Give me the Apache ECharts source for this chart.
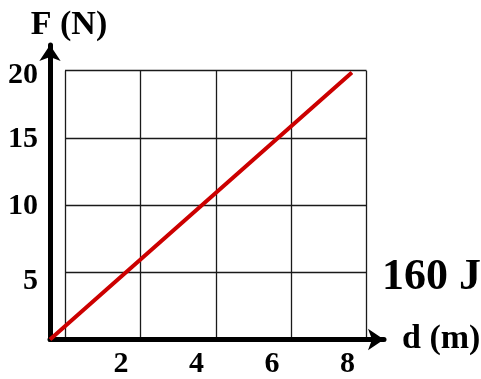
<!DOCTYPE html>
<html>
<head>
<meta charset="utf-8">
<script src="https://cdn.jsdelivr.net/npm/echarts@6/dist/echarts.min.js"></script>
<style>
  html, body { margin: 0; padding: 0; background: #ffffff; }
  #chart { width: 481px; height: 379px; }
</style>
</head>
<body>
<div id="chart"></div>
<script>
// Force (N) against displacement (m) for a uniform straight-line relation
const distances = [0, 2, 4, 6, 8];
const forces = [0, 5, 10, 15, 20];
const xTickLabels = ['2', '4', '6', '8'];
const yTickLabels = ['5', '10', '15', '20'];
const workLabel = '160 J';

const FONT = 'Liberation Serif, Times New Roman, serif';

const chart = echarts.init(document.getElementById('chart'), null, { renderer: 'canvas' });

const pairs = distances.map((d, i) => [d, forces[i]]);

const labelStyle = {
  fontFamily: FONT,
  fontWeight: 'bold',
  fontSize: 30,
  color: '#000'
};

// hand-lettered offsets of a few y tick labels
const yLabelRich = {
  n: Object.assign({}, labelStyle),
  lo: Object.assign({ padding: [16, 0, 0, 0] }, labelStyle),
  lo2: Object.assign({ padding: [5, 0, 0, 0] }, labelStyle)
};

chart.setOption({
  backgroundColor: '#ffffff',
  animation: false,
  grid: [
    // main plotting frame carrying the arrowed axes
    { left: 50, top: 45, width: 334, bottom: 39.5, outerBoundsMode: 'none', containLabel: false },
    // inner square lattice
    { left: 65, top: 70.7, width: 301.5, bottom: 39.5, outerBoundsMode: 'none', containLabel: false }
  ],
  xAxis: [
    {
      type: 'value',
      gridIndex: 0,
      min: 0,
      max: 8.85,
      interval: 2,
      z: 3,
      name: 'd (m)',
      nameLocation: 'end',
      nameGap: 18,
      nameMoveOverlap: false,
      nameTextStyle: {
        fontFamily: FONT, fontWeight: 'bold', fontSize: 34, color: '#000',
        align: 'left', verticalAlign: 'middle'
      },
      axisLine: {
        show: true,
        symbol: ['none', 'arrow'],
        symbolSize: [16, 16],
        lineStyle: { color: '#000', width: 5 }
      },
      axisTick: { show: false },
      splitLine: { show: false },
      axisLabel: Object.assign({
        margin: 10,
        padding: [0, 9, 0, 0],
        formatter: v => (xTickLabels.includes(String(v)) ? String(v) : '')
      }, labelStyle)
    },
    {
      type: 'value',
      gridIndex: 1,
      min: 0,
      max: 8,
      interval: 2,
      axisLine: { show: false },
      axisTick: { show: false },
      axisLabel: { show: false },
      splitLine: { show: true, lineStyle: { color: '#1a1a1a', width: 1.3 } }
    }
  ],
  yAxis: [
    {
      type: 'value',
      gridIndex: 0,
      min: 0,
      max: 22.06,
      interval: 5,
      z: 3,
      name: 'F (N)',
      nameLocation: 'end',
      nameGap: 3,
      nameMoveOverlap: false,
      nameTextStyle: {
        fontFamily: FONT, fontWeight: 'bold', fontSize: 34, color: '#000',
        align: 'center', padding: [0, 0, 0, 38]
      },
      axisLine: {
        show: true,
        symbol: ['none', 'arrow'],
        symbolSize: [16, 16],
        lineStyle: { color: '#000', width: 5 }
      },
      axisTick: { show: false },
      splitLine: { show: false },
      axisLabel: Object.assign({
        margin: 12,
        formatter: v => {
          const s = String(v);
          if (!yTickLabels.includes(s)) return '';
          if (s === '5') return '{lo|' + s + '}';
          if (s === '20') return '{lo2|' + s + '}';
          return '{n|' + s + '}';
        },
        rich: yLabelRich
      }, labelStyle)
    },
    {
      type: 'value',
      gridIndex: 1,
      min: 0,
      max: 20,
      interval: 5,
      axisLine: { show: false },
      axisTick: { show: false },
      axisLabel: { show: false },
      splitLine: { show: true, lineStyle: { color: '#1a1a1a', width: 1.3 } }
    }
  ],
  series: [
    {
      type: 'line',
      xAxisIndex: 0,
      yAxisIndex: 0,
      data: pairs,
      symbol: 'none',
      z: 5,
      lineStyle: { color: '#cc0000', width: 4 }
    }
  ],
  graphic: [
    {
      type: 'text',
      left: 382,
      top: 256,
      style: {
        text: workLabel,
        fontFamily: FONT,
        fontWeight: 'bold',
        fontSize: 44,
        fill: '#000',
        textVerticalAlign: 'middle'
      }
    }
  ]
});
</script>
</body>
</html>
